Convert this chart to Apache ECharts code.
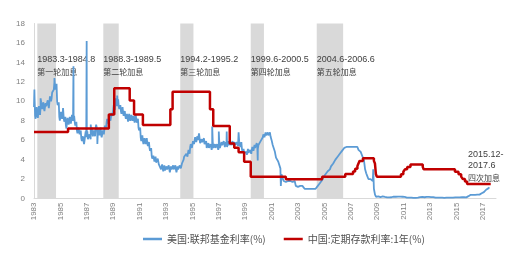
<!DOCTYPE html>
<html><head><meta charset="utf-8">
<script src="https://cdn.jsdelivr.net/npm/echarts@6.0.0/dist/echarts.min.js"></script>
<style>html,body{margin:0;padding:0;background:#fff}#c{width:512px;height:254px}</style>
</head><body><div id="c"></div>
<script>
const baseYear = 1983;
const lastYear = 2018;
const yTicks = [0, 18, 2];

// US effective federal funds rate (%), monthly from 1983-01
const fed1983to1989 = [
  9.4, 8.5, 8.8, 8.6, 8.9, 8.9, 9.4, 9.6, 9.4, 9.3, 9.4, 9.5,
  9.6, 9.6, 9.9, 10.3, 10.3, 11.1, 11.2, 11.6, 11.3, 10.0, 9.4, 8.4,
  8.4, 8.5, 8.6, 8.3, 8.0, 7.5, 7.9, 7.9, 7.9, 8.0, 8.1, 8.3,
  8.1, 7.9, 7.5, 7.0, 6.9, 6.9, 6.6, 6.2, 5.9, 5.9, 6.0, 6.9,
  6.4, 6.1, 6.1, 6.4, 6.9, 6.7, 6.6, 6.7, 7.2, 7.3, 6.7, 6.8,
  6.8, 6.6, 6.6, 6.9, 7.1, 7.5, 7.8, 8.0, 8.2, 8.3, 8.4, 8.8,
  9.1, 9.4, 9.9, 9.8, 9.8, 9.5, 9.2, 9.0, 9.0, 8.8, 8.6, 8.5
];
const fed1990to1999 = [
  8.2, 8.3, 8.3, 8.3, 8.2, 8.3, 8.1, 8.1, 8.2, 8.1, 7.8, 7.3,
  6.9, 6.3, 6.1, 5.9, 5.8, 5.9, 5.8, 5.7, 5.5, 5.2, 4.8, 4.4,
  4.0, 4.1, 4.0, 3.7, 3.8, 3.8, 3.3, 3.3, 3.2, 3.1, 3.1, 2.9,
  3.0, 3.0, 3.1, 3.0, 3.0, 3.0, 3.1, 3.0, 3.1, 3.0, 3.0, 3.0,
  3.1, 3.3, 3.3, 3.6, 4.0, 4.3, 4.3, 4.5, 4.7, 4.8, 5.3, 5.5,
  5.5, 5.9, 6.0, 6.1, 6.0, 6.0, 5.9, 5.7, 5.8, 5.8, 5.8, 5.6,
  5.6, 5.2, 5.3, 5.2, 5.2, 5.3, 5.4, 5.2, 5.3, 5.2, 5.3, 5.3,
  5.3, 5.2, 5.4, 5.5, 5.5, 5.6, 5.5, 5.5, 5.5, 5.5, 5.5, 5.5,
  5.6, 5.5, 5.5, 5.5, 5.5, 5.6, 5.5, 5.6, 5.5, 5.1, 4.8, 4.7,
  4.6, 4.8, 4.8, 4.7, 4.7, 4.8, 5.0, 5.1, 5.2, 5.2, 5.4, 5.3
];
const fed2000to2009 = [
  5.5, 5.7, 5.9, 6.0, 6.3, 6.5, 6.5, 6.5, 6.5, 6.5, 6.5, 6.4,
  6.0, 5.5, 5.3, 4.8, 4.2, 4.0, 3.8, 3.7, 3.1, 2.5, 2.1, 1.8,
  1.7, 1.7, 1.7, 1.8, 1.8, 1.8, 1.7, 1.7, 1.8, 1.8, 1.3, 1.2,
  1.2, 1.3, 1.3, 1.3, 1.3, 1.2, 1.0, 1.0, 1.0, 1.0, 1.0, 1.0,
  1.0, 1.0, 1.0, 1.0, 1.0, 1.0, 1.3, 1.4, 1.6, 1.8, 1.9, 2.2,
  2.3, 2.5, 2.6, 2.8, 3.0, 3.0, 3.3, 3.5, 3.6, 3.8, 4.0, 4.2,
  4.3, 4.5, 4.6, 4.8, 4.9, 5.0, 5.2, 5.3, 5.3, 5.3, 5.3, 5.2,
  5.3, 5.3, 5.3, 5.3, 5.3, 5.3, 5.3, 5.0, 4.9, 4.8, 4.5, 4.2,
  3.9, 3.0, 2.6, 2.3, 2.0, 2.0, 2.0, 2.0, 1.8, 1.0, 0.4, 0.16,
  0.15, 0.22, 0.18, 0.15, 0.18, 0.21, 0.16, 0.16, 0.15, 0.12, 0.12, 0.12
];
const fed2010to2017 = [
  0.11, 0.13, 0.16, 0.20, 0.20, 0.18, 0.18, 0.19, 0.19, 0.19, 0.19, 0.18,
  0.17, 0.16, 0.14, 0.10, 0.09, 0.09, 0.07, 0.10, 0.08, 0.07, 0.08, 0.07,
  0.08, 0.10, 0.13, 0.14, 0.16, 0.16, 0.16, 0.13, 0.14, 0.16, 0.16, 0.16,
  0.14, 0.15, 0.14, 0.15, 0.11, 0.09, 0.09, 0.08, 0.08, 0.09, 0.08, 0.09,
  0.07, 0.07, 0.08, 0.09, 0.09, 0.10, 0.09, 0.09, 0.09, 0.09, 0.09, 0.12,
  0.11, 0.11, 0.11, 0.12, 0.12, 0.13, 0.13, 0.14, 0.14, 0.12, 0.12, 0.24,
  0.34, 0.38, 0.36, 0.37, 0.37, 0.38, 0.39, 0.40, 0.40, 0.40, 0.41, 0.54,
  0.65, 0.66, 0.79, 0.90, 0.91, 1.04, 1.15
];
// mid-month daily readings (jagged daily series), 1983-01 to 2000-12
const fedMid1983to2000 = [
  10.4, 8.2, 9.4, 8.3, 9.5, 8.6, 9.9, 9.2, 9.9, 9.0, 9.8, 9.3,
  10.1, 9.3, 10.5, 10.0, 10.9, 10.8, 11.9, 11.2, 11.8, 9.6, 9.9, 8.0,
  8.9, 8.2, 9.2, 7.9, 8.4, 7.2, 8.3, 7.6, 8.4, 7.7, 8.6, 8.0,
  8.5, 7.5, 7.9, 6.7, 7.3, 6.6, 7.0, 5.9, 6.4, 5.6, 6.5, 6.3,
  6.9, 5.9, 6.6, 6.1, 7.3, 6.4, 7.0, 6.4, 7.6, 6.9, 7.1, 6.5,
  7.3, 6.3, 7.0, 6.6, 7.5, 7.2, 8.2, 7.7, 8.6, 8.0, 8.8, 8.5,
  9.6, 9.1, 10.3, 9.5, 10.2, 9.2, 9.6, 8.7, 9.4, 8.5, 9.0, 8.2,
  8.7, 7.9, 8.7, 8.0, 8.6, 8.0, 8.5, 7.8, 8.6, 7.8, 8.2, 7.0,
  7.3, 5.9, 6.5, 5.6, 6.2, 5.6, 6.2, 5.4, 5.8, 4.9, 5.2, 4.1,
  4.4, 3.8, 4.3, 3.5, 4.1, 3.5, 3.6, 3.0, 3.5, 2.8, 3.4, 2.7,
  3.3, 2.8, 3.4, 2.7, 3.3, 2.8, 3.4, 2.8, 3.4, 2.7, 3.3, 2.8,
  3.4, 3.1, 3.6, 3.4, 4.3, 4.1, 4.6, 4.3, 5.0, 4.6, 5.6, 5.2,
  5.9, 5.6, 6.3, 5.8, 6.4, 5.8, 6.2, 5.5, 6.1, 5.6, 6.2, 5.4,
  5.9, 5.0, 5.7, 5.0, 5.6, 5.0, 5.8, 5.0, 5.6, 5.0, 5.6, 5.0,
  5.6, 5.0, 5.8, 5.3, 5.9, 5.3, 5.8, 5.3, 5.9, 5.3, 5.8, 5.3,
  5.9, 5.3, 5.8, 5.3, 5.8, 5.4, 5.9, 5.3, 5.8, 4.8, 5.1, 4.5,
  4.9, 4.5, 5.1, 4.5, 5.0, 4.6, 5.3, 4.9, 5.5, 5.0, 5.7, 5.1,
  5.7, 5.5, 6.1, 5.8, 6.6, 6.3, 6.8, 6.3, 6.8, 6.3, 6.8, 6.2
];
// daily spikes / dips visible in the picture
const fedSpikeYears = [1983.03, 1983.12, 1983.5, 1984.55, 1984.9, 1985.2, 1985.99, 1986.99, 1987.3, 1987.8, 1989.3, 1995.5, 1996.5, 1997.0, 1997.6, 1998.5, 1999.95, 2001.7, 2008.7];
const fedSpikeRates = [11.2, 8.2, 10.3, 12.4, 9.9, 9.3, 13.6, 16.2, 7.6, 5.6, 10.6, 6.7, 7.4, 6.9, 6.9, 6.8, 3.9, 1.3, 3.0];

// China 1-year deposit rate (%), step changes
const cnYears = [1983.0, 1985.58, 1988.67, 1989.08, 1990.25, 1990.58, 1991.25, 1993.33, 1993.5, 1996.33, 1996.58, 1997.83, 1998.17, 1998.5, 1998.92, 1999.42, 2002.08, 2004.83, 2006.58, 2007.17, 2007.33, 2007.5, 2007.58, 2007.67, 2007.92, 2008.75, 2008.83, 2008.9, 2008.97, 2010.8, 2010.98, 2011.1, 2011.27, 2011.52, 2012.45, 2012.52, 2014.89, 2015.16, 2015.36, 2015.49, 2015.65, 2015.81, 2017.6];
const cnRates = [6.84, 7.20, 8.64, 11.34, 10.08, 8.64, 7.56, 9.18, 10.98, 9.18, 7.47, 5.67, 5.22, 4.77, 3.78, 2.25, 1.98, 2.25, 2.52, 2.79, 3.06, 3.33, 3.60, 3.87, 4.14, 3.87, 3.60, 2.52, 2.25, 2.50, 2.75, 3.00, 3.25, 3.50, 3.25, 3.00, 2.75, 2.50, 2.25, 2.00, 1.75, 1.50, 1.50];

// US hiking cycles (shaded)
const bandStart = [1983.25, 1988.25, 1994.08, 1999.42, 2004.42];
const bandEnd = [1984.67, 1989.42, 1995.08, 2000.42, 2006.42];
const bandRange = ['1983.3-1984.8', '1988.3-1989.5', '1994.2-1995.2', '1999.6-2000.5', '2004.6-2006.6'];
const bandRound = ['第一轮加息', '第二轮加息', '第三轮加息', '第四轮加息', '第五轮加息'];
const lastNote = ['2015.12-', '2017.6', '四次加息'];

const seriesNames = ['美国:联邦基金利率(%)', '中国:定期存款利率:1年(%)'];

// build series data
const fedMonthly = [].concat(fed1983to1989, fed1990to1999, fed2000to2009, fed2010to2017);
let fedData = fedMonthly.map((v, i) => [i / 12, v]);
fedMid1983to2000.forEach((v, i) => fedData.push([(i + 0.5) / 12, v]));
fedSpikeYears.forEach((y, i) => fedData.push([y - baseYear, fedSpikeRates[i]]));
fedData.sort((a, b) => a[0] - b[0]);
const cnData = cnYears.map((y, i) => [y - baseYear, cnRates[i]]);

const richStyle = {
  a: { fontSize: 9, fontFamily: 'Liberation Sans', color: '#404040', lineHeight: 12 },
  b: { fontSize: 8, fontFamily: 'Noto Sans CJK SC', color: '#404040', lineHeight: 12 }
};

const areas = bandStart.map((s, i) => [
  { xAxis: s - baseYear, label: { formatter: '{a|' + bandRange[i] + '}\n{b|' + bandRound[i] + '}' } },
  { xAxis: bandEnd[i] - baseYear }
]);

const chart = echarts.init(document.getElementById('c'), null, { renderer: 'canvas' });
chart.setOption({
  animation: false,
  backgroundColor: '#ffffff',
  grid: { left: 34, right: 16, top: 23.5, bottom: 55.5, containLabel: false },
  xAxis: {
    type: 'value', min: 0, max: lastYear - baseYear, interval: 2,
    axisLine: { show: true, lineStyle: { color: '#d9d9d9' } },
    axisTick: { show: false },
    splitLine: { show: false },
    axisLabel: {
      rotate: 90, fontSize: 8, color: '#808080', margin: 4, fontFamily: 'Liberation Sans',
      showMaxLabel: false,
      formatter: v => String(v + baseYear)
    }
  },
  yAxis: {
    type: 'value', min: yTicks[0], max: yTicks[1], interval: yTicks[2],
    axisLine: { show: true, lineStyle: { color: '#d9d9d9' } },
    axisTick: { show: false },
    splitLine: { show: false },
    axisLabel: { fontSize: 8, color: '#808080', margin: 9, fontFamily: 'Liberation Sans' }
  },
  legend: {
    left: 138, top: 229, itemWidth: 19, itemHeight: 2.5, itemGap: 18,
    textStyle: { fontSize: 10, color: '#505050', fontFamily: 'Noto Sans CJK SC' },
    data: [{ name: seriesNames[0], icon: 'rect' }, { name: seriesNames[1], icon: 'rect' }]
  },
  series: [
    {
      name: seriesNames[0], type: 'line', data: fedData, showSymbol: false, symbol: 'none',
      lineStyle: { color: '#5b9bd5', width: 1.8 }, itemStyle: { color: '#5b9bd5' }, z: 3,
      markArea: {
        silent: true,
        itemStyle: { color: '#d9d9d9' },
        label: { show: true, position: [0, 30], rich: richStyle },
        data: areas
      }
    },
    {
      name: seriesNames[1], type: 'line', data: cnData, step: 'end', showSymbol: false, symbol: 'none',
      lineStyle: { color: '#c00000', width: 2.5 }, itemStyle: { color: '#c00000' }, z: 4
    }
  ],
  graphic: [{
    type: 'text', left: 468, top: 150,
    style: {
      text: '{a|' + lastNote[0] + '}\n{a|' + lastNote[1] + '}\n{b|' + lastNote[2] + '}',
      rich: {
        a: { fontSize: 9, fontFamily: 'Liberation Sans', fill: '#404040', lineHeight: 11.5 },
        b: { fontSize: 8, fontFamily: 'Noto Sans CJK SC', fill: '#404040', lineHeight: 11.5 }
      }
    }
  }]
});
</script></body></html>
